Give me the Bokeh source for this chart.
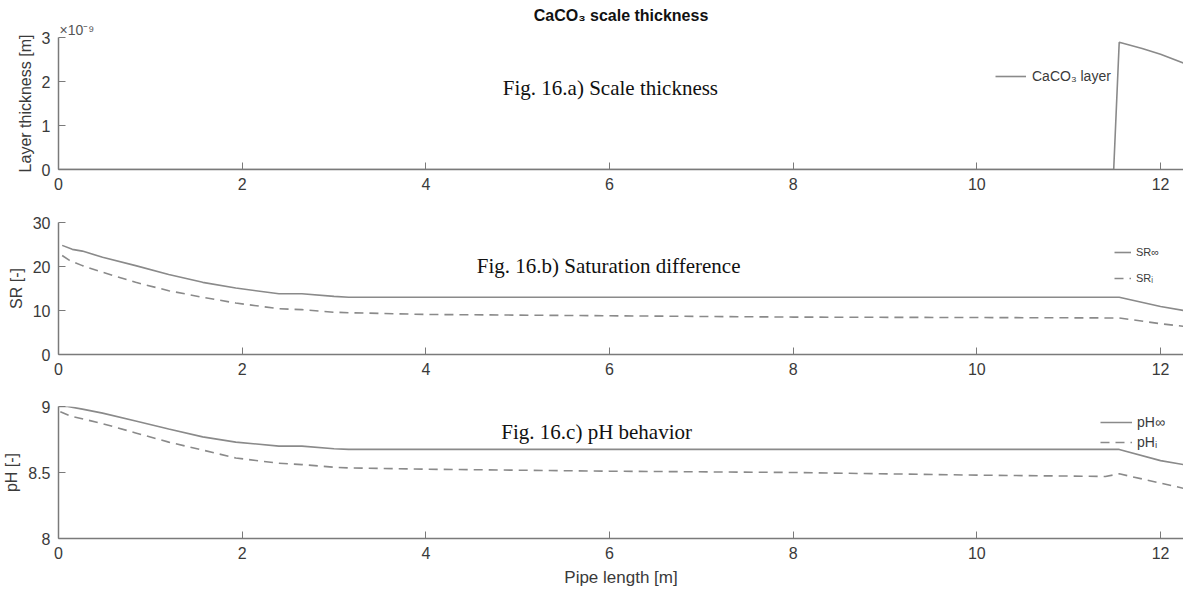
from bokeh.plotting import figure
from bokeh.models import Legend, LegendItem, Label, FixedTicker, Range1d, Title
from bokeh.layouts import column
from bokeh.embed import file_html
from bokeh.resources import INLINE

# ---- data ----
x_layer = [0.0, 11.49, 11.55, 11.8, 12.0, 12.25]
thickness_1e9 = [0.0, 0.0, 2.89, 2.75, 2.62, 2.42]  # in 1e-9 m

x_sr_inf = [0.04, 0.15, 0.26, 0.48, 0.84, 1.2, 1.57, 1.93, 2.4, 2.65, 3.0, 3.16, 11.55, 12.0, 12.25]
sr_inf = [24.8, 23.9, 23.5, 22.1, 20.2, 18.2, 16.4, 15.1, 13.8, 13.8, 13.2, 13.0, 13.0, 10.9, 10.0]
x_sr_i = [0.04, 0.12, 0.26, 0.48, 0.84, 1.2, 1.57, 1.93, 2.4, 2.65, 3.0, 3.16, 4, 6, 8, 10, 11.55, 12.0, 12.25]
sr_i = [22.5, 21.4, 20.2, 18.7, 16.4, 14.5, 13.0, 11.7, 10.4, 10.2, 9.6, 9.5, 9.1, 8.8, 8.5, 8.4, 8.3, 7.0, 6.4]

x_ph_inf = [0.0, 0.1, 0.26, 0.48, 0.84, 1.2, 1.57, 1.93, 2.4, 2.65, 3.0, 3.16, 11.55, 12.0, 12.25]
ph_inf = [9.0, 9.0, 8.98, 8.95, 8.89, 8.83, 8.77, 8.73, 8.70, 8.70, 8.68, 8.675, 8.675, 8.59, 8.56]
x_ph_i = [0.02, 0.12, 0.48, 0.84, 1.2, 1.57, 1.93, 2.4, 2.65, 3.0, 3.16, 4, 6, 8, 10, 11.4, 11.55, 12.0, 12.25]
ph_i = [8.96, 8.93, 8.87, 8.80, 8.73, 8.67, 8.61, 8.57, 8.56, 8.54, 8.535, 8.525, 8.51, 8.50, 8.48, 8.47, 8.49, 8.42, 8.38]

x_ticks = [0, 2, 4, 6, 8, 10, 12]

LINE = "#8a8a8a"
AXIS = "#7a7a7a"
TXT = "#3a3a3a"
W = 1183
LEFT = 56
RIGHT = 0

xr = Range1d(0, 12.25)


def make_fig(height, top, bottom, yr, yticks):
    p = figure(width=W, height=height, x_range=xr, y_range=Range1d(*yr),
               output_backend="svg", toolbar_location=None,
               min_border_left=LEFT, min_border_right=RIGHT,
               min_border_top=top, min_border_bottom=bottom)
    p.outline_line_color = None
    p.xgrid.visible = False
    p.ygrid.visible = False
    p.background_fill_color = "white"
    for ax in (p.xaxis[0], p.yaxis[0]):
        ax.axis_line_color = AXIS
        ax.axis_line_width = 1.5
        ax.major_tick_line_color = AXIS
        ax.major_tick_line_width = 1
        ax.major_tick_in = 7
        ax.major_tick_out = 0
        ax.minor_tick_line_color = None
        ax.major_label_text_font = "Liberation Sans"
        ax.major_label_text_font_size = "16px"
        ax.major_label_text_color = TXT
        ax.axis_label_text_font = "Liberation Sans"
        ax.axis_label_text_font_size = "16px"
        ax.axis_label_text_font_style = "normal"
        ax.axis_label_text_color = TXT
    p.xaxis.ticker = FixedTicker(ticks=x_ticks)
    p.yaxis.ticker = FixedTicker(ticks=yticks)
    p.xaxis.major_label_standoff = 8
    p.yaxis.major_label_standoff = 8
    p.yaxis.axis_label_standoff = 5
    return p


FIG_FONT = "21px"

# ---- panel 1 ----
p1 = make_fig(196, 37, 27, (0, 3), [0, 1, 2, 3])
p1.title.text = "CaCO\u2083 scale thickness"
p1.title.align = "center"
p1.title.text_font = "Liberation Sans"
p1.title.text_font_size = "16px"
p1.title.text_font_style = "bold"
p1.title.text_color = "#111111"
p1.title.standoff = -8
p1.add_layout(Title(text="\u00d710\u207b\u2079", align="left", offset=1,
                    text_font="Liberation Sans", text_font_size="14px",
                    text_font_style="normal", text_color="#555555", standoff=0), "above")
p1.yaxis.axis_label = "Layer thickness [m]"
r1 = p1.line(x_layer, thickness_1e9, line_color=LINE, line_width=1.6)
p1.add_layout(Label(x=6.01, y=1.86, text="Fig. 16.a) Scale thickness", text_align="center",
                    text_baseline="middle", text_font="Liberation Serif",
                    text_font_size=FIG_FONT, text_color="#111111"))
leg1 = Legend(items=[LegendItem(label="CaCO\u2083 layer", renderers=[r1])],
              location=(937, 83), padding=0, margin=0, glyph_width=31, glyph_height=20,
              label_standoff=6, label_text_font="Liberation Sans", label_text_font_size="14px",
              label_text_color=TXT, border_line_alpha=0, background_fill_alpha=0)
p1.add_layout(leg1)

# ---- panel 2 ----
p2 = make_fig(184, 26, 26, (0, 30), [0, 10, 20, 30])
p2.yaxis.axis_label = "SR [-]"
r2a = p2.line(x_sr_inf, sr_inf, line_color=LINE, line_width=1.6)
r2b = p2.line(x_sr_i, sr_i, line_color=LINE, line_width=1.6, line_dash="9 6")
p2.add_layout(Label(x=5.99, y=20.2, text="Fig. 16.b) Saturation difference", text_align="center",
                    text_baseline="middle", text_font="Liberation Serif",
                    text_font_size=FIG_FONT, text_color="#111111"))
leg2 = Legend(items=[LegendItem(label="SR\u221e", renderers=[r2a]),
                     LegendItem(label="SR\u1d62", renderers=[r2b])],
              location=(1056, 66), padding=0, margin=0, glyph_width=17, glyph_height=20,
              spacing=6, label_standoff=5, label_text_font="Liberation Sans",
              label_text_font_size="11px", label_text_color=TXT,
              border_line_alpha=0, background_fill_alpha=0)
p2.add_layout(leg2)

# ---- panel 3 ----
p3 = make_fig(209, 26, 50, (8, 9), [8, 8.5, 9])
p3.yaxis.axis_label = "pH [-]"
p3.xaxis.axis_label = "Pipe length [m]"
p3.xaxis.axis_label_text_font_size = "17px"
p3.xaxis.axis_label_standoff = 6
r3a = p3.line(x_ph_inf, ph_inf, line_color=LINE, line_width=1.6)
r3b = p3.line(x_ph_i, ph_i, line_color=LINE, line_width=1.6, line_dash="9 6")
p3.add_layout(Label(x=5.86, y=8.81, text="Fig. 16.c) pH behavior", text_align="center",
                    text_baseline="middle", text_font="Liberation Serif",
                    text_font_size=FIG_FONT, text_color="#111111"))
leg3 = Legend(items=[LegendItem(label="pH\u221e", renderers=[r3a]),
                     LegendItem(label="pH\u1d62", renderers=[r3b])],
              location=(1042, 88), padding=0, margin=0, glyph_width=32, glyph_height=16,
              spacing=4, label_standoff=5, label_text_font="Liberation Sans",
              label_text_font_size="14px", label_text_color=TXT,
              border_line_alpha=0, background_fill_alpha=0)
p3.add_layout(leg3)

layout = column(p1, p2, p3, spacing=0)
open("out.html", "w").write(file_html(layout, INLINE))
